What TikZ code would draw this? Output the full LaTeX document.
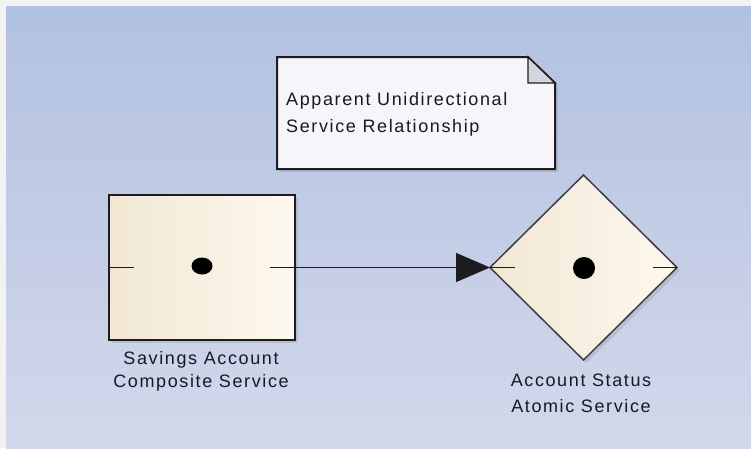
\documentclass[tikz,border=0pt]{standalone}
\usepackage{fontspec}
\setmainfont{Liberation Sans}
\newfontfamily\lblfont[LetterSpace=9]{Liberation Sans}
\usetikzlibrary{arrows.meta,shapes.geometric,shadows}

\definecolor{frame}{RGB}{242,242,242}
\definecolor{bgtop}{RGB}{178,193,224}
\definecolor{bgbottom}{RGB}{211,216,235}
\definecolor{creamL}{RGB}{241,231,211}
\definecolor{creamR}{RGB}{253,248,239}
\definecolor{notefill}{RGB}{247,244,250}
\definecolor{foldfill}{RGB}{212,212,222}
\definecolor{ink}{RGB}{28,28,34}
\definecolor{txt}{RGB}{24,24,36}

\tikzset{
  shade1/.style={drop shadow={shadow xshift=3pt, shadow yshift=-3pt, opacity=0.18, fill=black!60}},
  svcbox/.style={rectangle, draw=ink, line width=2pt, inner sep=0pt, outer sep=0pt,
    left color=creamL, right color=creamR, shade1},
  atombox/.style={diamond, draw=ink!85, line width=1.5pt, inner sep=0pt, outer sep=0pt,
    left color=creamL, right color=creamR, shade1},
  dotmark/.style={ellipse, fill=black, inner sep=0pt},
  tick/.style={draw=ink, line width=1.3pt},
  conn/.style={draw=ink, line width=1.3pt, -{Triangle[length=34pt,width=29pt]}},
  lbl/.style={text=txt, align=center, inner sep=0pt},
}

\begin{document}
\begin{tikzpicture}[x=1pt,y=-1pt]
  \useasboundingbox (0,0) rectangle (751,448);
  % canvas
  \fill[frame] (0,0) rectangle (751,448);
  \shade[top color=bgtop, bottom color=bgbottom] (6,6) rectangle (751,448);

  % note with folded corner
  \path[fill=notefill, draw=ink, line width=2pt, line join=miter, shade1]
    (277,57) -- (528,57) -- (555,83) -- (555,169) -- (277,169) -- cycle;
  \path[fill=foldfill, draw=ink, line width=1.4pt]
    (528,57) -- (528,83) -- (555,83) -- cycle;
  % multi-line nodes sit on the baseline of their last line
  \node[text=txt, anchor=base west, align=left, inner sep=0pt,
        font={\lblfont\fontsize{18}{27}\selectfont}] (note) at (286,132)
    {Apparent Unidirectional\\Service Relationship};

  % composite service
  \node[svcbox, minimum width=186pt, minimum height=145pt] (comp) at (201.5,267.5) {};
  \node[dotmark, minimum width=21pt, minimum height=17pt] (compdot) at (202,266) {};
  \draw[tick] (comp.west) -- ++(25,0);
  \draw[tick] (comp.east) -- ++(-25,0);
  \node[lbl, anchor=base, font={\lblfont\fontsize{18}{23}\selectfont}] (complbl) at (201,387)
    {Savings Account\\Composite Service};

  % atomic service
  \node[atombox, minimum width=187pt, minimum height=185pt] (atom) at (583.5,267.5) {};
  \node[dotmark, minimum width=22pt, minimum height=22pt] (atomdot) at (584,268) {};
  \draw[tick] (atom.west) -- ++(25,0);
  \draw[tick] (atom.east) -- ++(-24,0);
  \node[lbl, anchor=base, font={\lblfont\fontsize{18}{26}\selectfont}] (atomlbl) at (581,412)
    {Account Status\\Atomic Service};

  % relationship
  \draw[conn] (comp.east) -- (atom.west);
\end{tikzpicture}
\end{document}
